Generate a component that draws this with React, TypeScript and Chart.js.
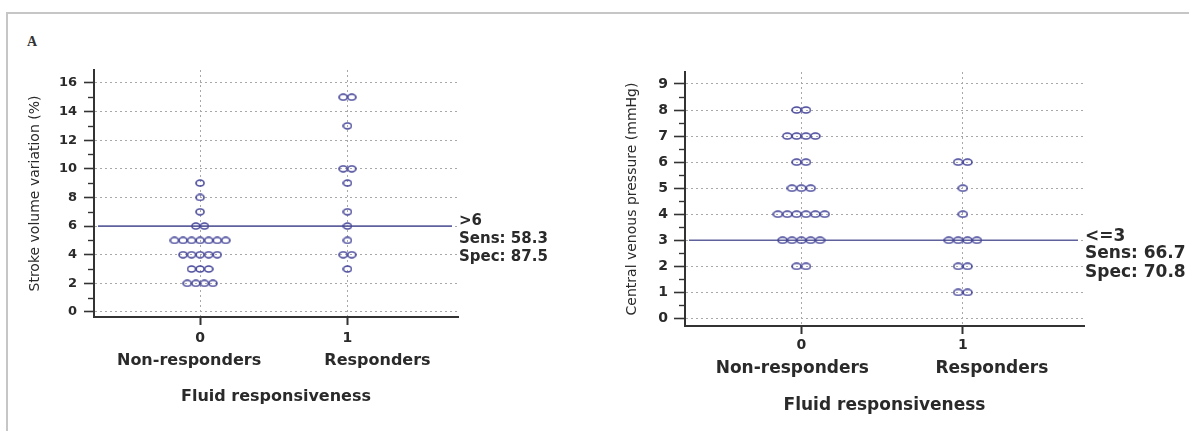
import React, { useEffect, useRef } from 'react';
import { Chart, registerables } from 'chart.js';

Chart.register(...registerables);

// ---- data ----
const CATEGORY_TICKS = ['0', '1'];
const CATEGORY_NAMES = ['Non-responders', 'Responders'];
const X_TITLE = 'Fluid responsiveness';

const SVV_TITLE = 'Stroke volume variation (%)';
const SVV_NON_RESPONDERS = [9, 8, 7, 6, 6, 5, 5, 5, 5, 5, 5, 5, 4, 4, 4, 4, 4, 3, 3, 3, 2, 2, 2, 2];
const SVV_RESPONDERS = [15, 15, 13, 10, 10, 9, 7, 6, 5, 4, 4, 3];
const SVV_CUTOFF = 6;
const SVV_STATS = ['>6', 'Sens: 58.3', 'Spec: 87.5'];

const CVP_TITLE = 'Central venous pressure (mmHg)';
const CVP_NON_RESPONDERS = [8, 8, 7, 7, 7, 7, 6, 6, 5, 5, 5, 4, 4, 4, 4, 4, 4, 3, 3, 3, 3, 3, 2, 2];
const CVP_RESPONDERS = [6, 6, 5, 4, 3, 3, 3, 3, 2, 2, 1, 1];
const CVP_CUTOFF = 3;
const CVP_STATS = ['<=3', 'Sens: 66.7', 'Spec: 70.8'];

// ---- styles ----
const TXT = '#2a2a2a';
const AXIS = '#333333';
const GRID = '#a8a8a8';
const DOT = '#48489a';
const CUT = '#5e619c';
const FONT = '"DejaVu Sans", Verdana, sans-serif';

function swarm(values: number[], center: number, spacing: number) {
  const counts = new Map<number, number>();
  values.forEach((v) => counts.set(v, (counts.get(v) || 0) + 1));
  const seen = new Map<number, number>();
  return values.map((v) => {
    const n = counts.get(v) as number;
    const k = seen.get(v) || 0;
    seen.set(v, k + 1);
    return { x: center + (k - (n - 1) / 2) * spacing, y: v };
  });
}

function makeDot(w: number, h: number) {
  const c = document.createElement('canvas');
  c.width = w;
  c.height = h;
  const g = c.getContext('2d') as CanvasRenderingContext2D;
  g.strokeStyle = DOT;
  g.lineWidth = 1.6;
  g.beginPath();
  g.ellipse(w / 2, h / 2, w / 2 - 1, h / 2 - 1, 0, 0, Math.PI * 2);
  g.stroke();
  return c;
}

type Panel = {
  width: number;
  yTitle: string;
  nonResp: number[];
  resp: number[];
  cutoff: number;
  stats: string[];
  yMin: number;
  yMax: number;
  yStep: number;
  pad: { left: number; top: number; right: number };
  yWidth: number;
  xHeight: number;
  yTickFont: number;
  yTickPad: number;
  yTickLen: number;
  xTickFont: number;
  xTickPad: number;
  xTitleFont: number;
  xTitlePad: number;
  nameFont: number;
  nameDy: number;
  nameDx: number[];
  statFont: number;
  statDy: number[];
  dotW: number;
  dotH: number;
  spacing: number;
};

const X_MIN = -0.72;
const X_MAX = 1.75;

const LEFT: Panel = {
  width: 590,
  yTitle: SVV_TITLE,
  nonResp: SVV_NON_RESPONDERS,
  resp: SVV_RESPONDERS,
  cutoff: SVV_CUTOFF,
  stats: SVV_STATS,
  yMin: -0.35,
  yMax: 16.9,
  yStep: 2,
  pad: { left: 27, top: 70, right: 132 },
  yWidth: 67,
  xHeight: 114,
  yTickFont: 13,
  yTickPad: 7,
  yTickLen: 10,
  xTickFont: 14,
  xTickPad: 5,
  xTitleFont: 16,
  xTitlePad: 25,
  nameFont: 16,
  nameDy: 44,
  nameDx: [-11, 30],
  statFont: 15,
  statDy: [-5, 13, 31],
  dotW: 10,
  dotH: 8,
  spacing: 0.058,
};

const RIGHT: Panel = {
  width: 594,
  yTitle: CVP_TITLE,
  nonResp: CVP_NON_RESPONDERS,
  resp: CVP_RESPONDERS,
  cutoff: CVP_CUTOFF,
  stats: CVP_STATS,
  yMin: -0.29,
  yMax: 9.46,
  yStep: 1,
  pad: { left: 29, top: 72, right: 105 },
  yWidth: 61,
  xHeight: 105,
  yTickFont: 14,
  yTickPad: 6,
  yTickLen: 11,
  xTickFont: 14,
  xTickPad: 3,
  xTitleFont: 17,
  xTitlePad: 15,
  nameFont: 17,
  nameDy: 43,
  nameDx: [-9, 29],
  statFont: 17,
  statDy: [-4, 13, 32],
  dotW: 11,
  dotH: 8,
  spacing: 0.058,
};

function buildChart(canvas: HTMLCanvasElement, p: Panel) {
  const dot = makeDot(p.dotW, p.dotH);
  const decor = {
    id: 'decor',
    beforeDatasetsDraw(chart: any) {
      const { ctx, chartArea, scales } = chart;
      const y = scales.y.getPixelForValue(p.cutoff);
      ctx.save();
      ctx.strokeStyle = CUT;
      ctx.lineWidth = 1.6;
      ctx.beginPath();
      ctx.moveTo(chartArea.left + 4, y);
      ctx.lineTo(chartArea.right - 6, y);
      ctx.stroke();
      ctx.restore();
    },
    afterDraw(chart: any) {
      const { ctx, chartArea, scales } = chart;
      ctx.save();
      // minor ticks
      ctx.strokeStyle = AXIS;
      ctx.lineWidth = 1.4;
      for (let v = p.yStep / 2; v < p.yMax; v += p.yStep) {
        const yy = Math.round(scales.y.getPixelForValue(v)) + 0.5;
        ctx.beginPath();
        ctx.moveTo(chartArea.left - 6, yy);
        ctx.lineTo(chartArea.left, yy);
        ctx.stroke();
      }
      // category names
      ctx.fillStyle = TXT;
      ctx.textAlign = 'center';
      ctx.textBaseline = 'middle';
      ctx.font = `bold ${p.nameFont}px ${FONT}`;
      CATEGORY_NAMES.forEach((name, i) => {
        const x = scales.x.getPixelForValue(i) + p.nameDx[i];
        ctx.fillText(name, x, chartArea.bottom + p.nameDy);
      });
      // cutoff stats
      const yc = scales.y.getPixelForValue(p.cutoff);
      ctx.textAlign = 'left';
      ctx.font = `bold ${p.statFont}px ${FONT}`;
      p.stats.forEach((s, i) => {
        ctx.fillText(s, chartArea.right + 1, yc + p.statDy[i]);
      });
      ctx.restore();
    },
  };

  return new Chart(canvas, {
    type: 'scatter',
    data: {
      datasets: [
        {
          data: swarm(p.nonResp, 0, p.spacing),
          pointStyle: dot as any,
          pointRadius: 4,
          borderColor: DOT,
          backgroundColor: 'transparent',
        },
        {
          data: swarm(p.resp, 1, p.spacing),
          pointStyle: dot as any,
          pointRadius: 4,
          borderColor: DOT,
          backgroundColor: 'transparent',
        },
      ],
    },
    options: {
      responsive: false,
      animation: false,
      devicePixelRatio: 1,
      layout: { padding: { left: p.pad.left, top: p.pad.top, right: p.pad.right, bottom: 0 } },
      plugins: { legend: { display: false }, tooltip: { enabled: false } },
      scales: {
        x: {
          type: 'linear',
          min: X_MIN,
          max: X_MAX,
          afterFit: (s: any) => {
            s.height = p.xHeight;
          },
          ticks: {
            stepSize: 1,
            includeBounds: false,
            autoSkip: false,
            maxRotation: 0,
            padding: p.xTickPad,
            color: TXT,
            font: { family: FONT, size: p.xTickFont, weight: 'bold' },
            callback: (v: any) => (CATEGORY_TICKS[v] !== undefined ? CATEGORY_TICKS[v] : ''),
          },
          grid: { color: GRID, lineWidth: 1, tickColor: AXIS, tickWidth: 2, tickLength: 8 },
          border: { color: AXIS, width: 2, dash: [2, 3] },
          title: {
            display: true,
            text: X_TITLE,
            color: TXT,
            font: { family: FONT, size: p.xTitleFont, weight: 'bold' },
            padding: { top: 0, bottom: p.xTitlePad },
          },
        },
        y: {
          type: 'linear',
          min: p.yMin,
          max: p.yMax,
          afterFit: (s: any) => {
            s.width = p.yWidth;
          },
          ticks: {
            stepSize: p.yStep,
            includeBounds: false,
            padding: p.yTickPad,
            color: TXT,
            font: { family: FONT, size: p.yTickFont, weight: 'bold' },
          },
          grid: { color: GRID, lineWidth: 1, tickColor: AXIS, tickWidth: 1.6, tickLength: p.yTickLen },
          border: { color: AXIS, width: 2, dash: [2, 3] },
          title: {
            display: true,
            text: p.yTitle,
            color: TXT,
            font: { family: FONT, size: 14, weight: 'normal' },
            padding: { top: 0, bottom: 0 },
          },
        },
      },
    } as any,
    plugins: [decor],
  });
}

function PanelChart({ panel, left }: { panel: Panel; left: number }) {
  const ref = useRef<HTMLCanvasElement | null>(null);
  useEffect(() => {
    if (!ref.current) return;
    const chart = buildChart(ref.current, panel);
    return () => chart.destroy();
  }, [panel]);
  return (
    <canvas
      ref={ref}
      width={panel.width}
      height={431}
      style={{ position: 'absolute', left, top: 0, width: panel.width, height: 431 }}
    />
  );
}

export default function App() {
  return (
    <div
      style={{
        position: 'fixed',
        left: 0,
        top: 0,
        width: 1189,
        height: 431,
        background: '#ffffff',
        overflow: 'hidden',
      }}
    >
      <div
        style={{
          position: 'absolute',
          left: 6,
          top: 12,
          right: 0,
          bottom: 0,
          borderTop: '2px solid #c6c6c6',
          borderLeft: '2px solid #c6c6c6',
        }}
      />
      <div
        style={{
          position: 'absolute',
          left: 27,
          top: 34,
          lineHeight: '16px',
          fontFamily: '"Liberation Serif", "DejaVu Serif", serif',
          fontWeight: 'bold',
          fontSize: 14,
          color: '#333',
        }}
      >
        A
      </div>
      <PanelChart panel={LEFT} left={0} />
      <PanelChart panel={RIGHT} left={595} />
    </div>
  );
}
